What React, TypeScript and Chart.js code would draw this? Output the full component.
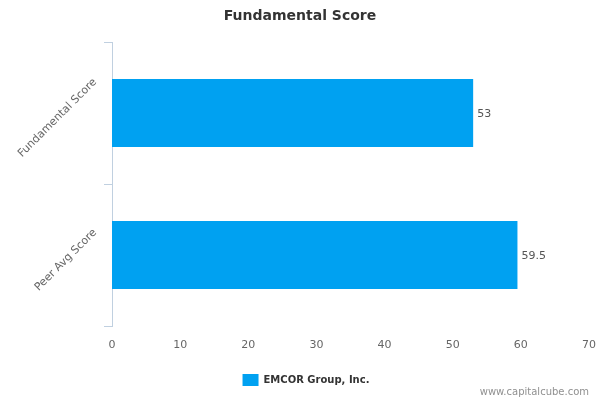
import React, { useEffect, useRef } from "react";
import { Chart, registerables } from "chart.js";

Chart.register(...registerables);

const titleText = "Fundamental Score";
const categories = ["Fundamental Score", "Peer Avg Score"];
const values = [53, 59.5];
const seriesName = "EMCOR Group, Inc.";
const xTicks = [0, 10, 20, 30, 40, 50, 60, 70];
const creditText = "www.capitalcube.com";

const BAR_COLOR = "#00A1F1";
const AXIS_COLOR = "#C0D0E0";
const FONT = "'DejaVu Sans', sans-serif";

const valueLabelsPlugin = {
  id: "valueLabels",
  afterDatasetsDraw(chart: any) {
    const ctx = chart.ctx;
    const meta = chart.getDatasetMeta(0);
    ctx.save();
    ctx.font = `11px ${FONT}`;
    ctx.fillStyle = "#555555";
    ctx.textAlign = "left";
    ctx.textBaseline = "middle";
    meta.data.forEach((el: any, i: number) => {
      ctx.fillText(String(values[i]), el.x + 4, el.y + 1);
    });
    ctx.restore();
  },
};

const categoryLabelsPlugin = {
  id: "categoryLabels",
  afterDraw(chart: any) {
    const ctx = chart.ctx;
    const scale = chart.scales.y;
    ctx.save();
    ctx.font = `11px ${FONT}`;
    ctx.fillStyle = "#666666";
    ctx.textAlign = "center";
    ctx.textBaseline = "middle";
    categories.forEach((label, i) => {
      const y = scale.getPixelForValue(i);
      const w = ctx.measureText(label).width;
      const cx = scale.right - 17 - w * 0.3536;
      const cy = y + 5;
      ctx.save();
      ctx.translate(cx, cy);
      ctx.rotate(-Math.PI / 4);
      ctx.fillText(label, 0, 0);
      ctx.restore();
    });
    ctx.restore();
  },
};

const creditPlugin = {
  id: "credit",
  afterDraw(chart: any) {
    const ctx = chart.ctx;
    ctx.save();
    ctx.font = `10px ${FONT}`;
    ctx.fillStyle = "#909090";
    ctx.textAlign = "right";
    ctx.textBaseline = "middle";
    ctx.fillText(creditText, chart.width - 11, chart.height - 8);
    ctx.restore();
  },
};

// Highcharts-style legend sits a few pixels right of centre
const legendNudgePlugin = {
  id: "legendNudge",
  afterLayout(chart: any) {
    if (chart.legend) {
      chart.legend.left += 6;
      chart.legend.right += 6;
    }
  },
};

export default function App() {
  const canvasRef = useRef<HTMLCanvasElement | null>(null);

  useEffect(() => {
    if (!canvasRef.current) return;
    const chart = new Chart(canvasRef.current, {
      type: "bar",
      data: {
        labels: categories,
        datasets: [
          {
            label: seriesName,
            data: values,
            backgroundColor: BAR_COLOR,
            borderWidth: 0,
            categoryPercentage: 1,
            barPercentage: 0.48,
          },
        ],
      },
      options: {
        indexAxis: "y",
        responsive: false,
        animation: false,
        layout: { padding: { left: 11, right: 11, top: 0, bottom: 4 } },
        scales: {
          x: {
            type: "linear",
            min: xTicks[0],
            max: xTicks[xTicks.length - 1],
            afterFit(scale: any) {
              scale.height = 38;
              scale.paddingLeft = 0;
              scale.paddingRight = 0;
            },
            ticks: {
              stepSize: xTicks[1] - xTicks[0],
              color: "#666666",
              font: { family: FONT, size: 11 },
              padding: 13,
            },
            grid: { display: false, drawTicks: false },
            border: { display: false },
          },
          y: {
            type: "category",
            offset: true,
            afterFit(scale: any) {
              scale.width = 101;
            },
            ticks: { display: false },
            grid: {
              display: true,
              offset: true,
              drawOnChartArea: false,
              drawTicks: true,
              tickLength: 8,
              color: AXIS_COLOR,
              lineWidth: 1,
            },
            border: { display: true, color: AXIS_COLOR, width: 1 },
          },
        },
        plugins: {
          title: {
            display: true,
            text: titleText,
            color: "#333333",
            font: { family: FONT, size: 14, weight: "bold" },
            padding: { top: 8, bottom: 17.2 },
          },
          legend: {
            display: true,
            position: "bottom",
            labels: {
              boxWidth: 16,
              boxHeight: 12,
              padding: 10,
              color: "#333333",
              font: { family: FONT, size: 10, weight: "bold" },
            },
          },
          tooltip: { enabled: false },
        },
      },
      plugins: [valueLabelsPlugin, categoryLabelsPlugin, creditPlugin, legendNudgePlugin],
    } as any);
    return () => chart.destroy();
  }, []);

  return (
    <div style={{ position: "fixed", left: 0, top: 0, width: 600, height: 400, background: "#ffffff" }}>
      <canvas ref={canvasRef} width={600} height={400} style={{ display: "block" }} />
    </div>
  );
}
